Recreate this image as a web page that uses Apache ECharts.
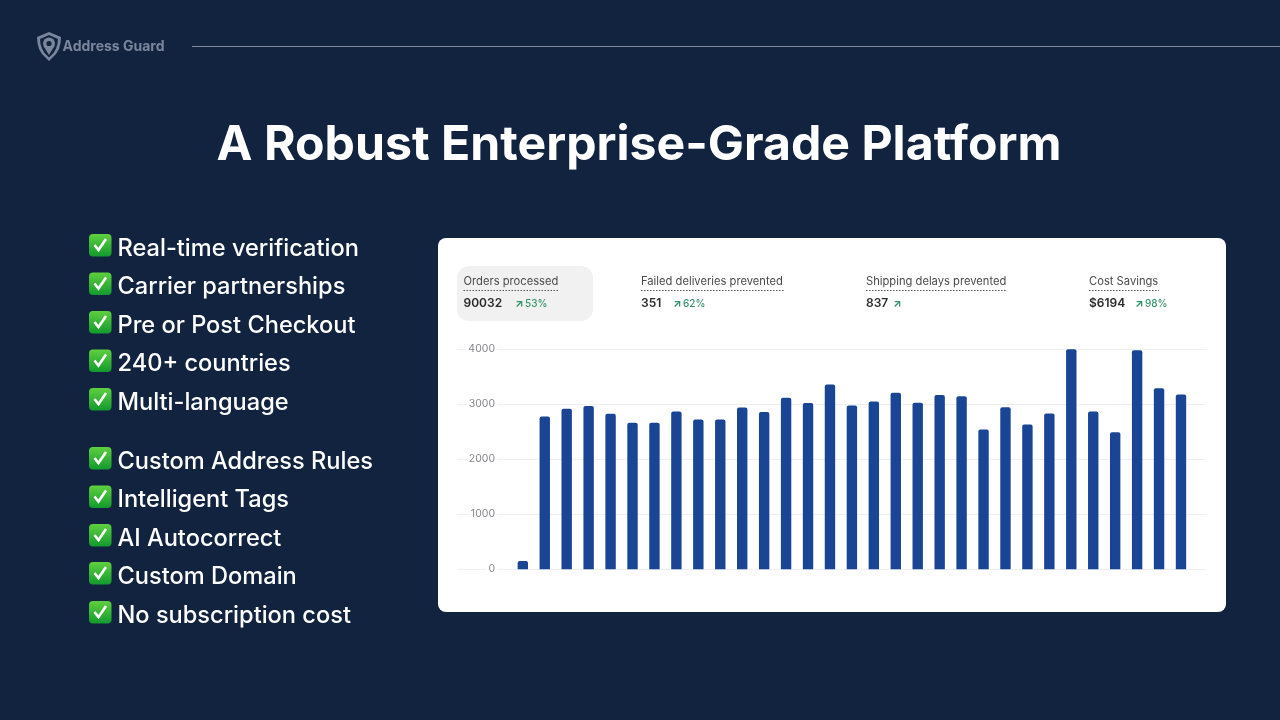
<!DOCTYPE html>
<html>
<head>
<meta charset="utf-8">
<title>A Robust Enterprise-Grade Platform</title>
<script src="https://cdn.jsdelivr.net/npm/echarts@6/dist/echarts.min.js"></script>
<style>
html,body{margin:0;padding:0;background:#12233f;}
#main{width:1280px;height:720px;}
</style>
</head>
<body>
<div id="main"></div>
<script>
var days = [1,2,3,4,5,6,7,8,9,10,11,12,13,14,15,16,17,18,19,20,21,22,23,24,25,26,27,28,29,30,31];
var orders = [150,2780,2920,2970,2830,2665,2665,2870,2725,2725,2940,2860,3120,3025,3360,2980,3050,3210,3030,3170,3145,2540,2945,2635,2835,4000,2870,2490,3985,3290,3180];
var yTicks = [0,1000,2000,3000,4000];

var pageTitle = 'A Robust Enterprise-Grade Platform';
var brandName = 'Address Guard';
var features = ['Real-time verification','Carrier partnerships','Pre or Post Checkout','240+ countries','Multi-language','Custom Address Rules','Intelligent Tags','AI Autocorrect','Custom Domain','No subscription cost'];
var featureRows = [247,285.5,324,362.5,401,460,498.5,537,575,614];

var metricNames = ['Orders processed','Failed deliveries prevented','Shipping delays prevented','Cost Savings'];
var metricValues = ['90032','351','837','$6194'];
var metricChanges = ['53%','62%','','98%'];
var metricX = [463.5,641,866,1089];
var metricUnderline = [95.5,143,140.5,70];
var metricArrowX = [515,673,893,1135];

var uiFont = 'Inter, "Noto Sans", sans-serif';
var green = '#34936a';
var logoGrey = '#7a869b';
var pageBg = '#12233f';

function label(text,x,y,font,fill,align){
	return {
		type:'text',
		style:{text:text,x:x,y:y,font:font,fill:fill,textAlign:align||'left',textVerticalAlign:'middle'}
	};
}

function shape(points,fill){
	return {type:'polygon',shape:{points:points},style:{fill:fill}};
}

function buildGraphic(){
	var els = [];
	//card
	els.push({type:'rect',z:-5,shape:{x:438,y:238,width:788,height:374,r:8},style:{fill:'#fff'}});
	els.push({type:'rect',z:-4,shape:{x:457,y:266,width:136,height:55,r:12},style:{fill:'#f1f1f1'}});

	//logo
	els.push(shape([[49,32],[55,34.5],[61,37],[60.5,43],[59,49],[56,54],[49,61],[42,54],[39,49],[37.5,43],[37,37],[43,34.5]],logoGrey));
	els.push(shape([[49,35],[58,39],[57.5,44],[56,48.5],[53.5,53],[49,57.5],[44.5,53],[42,48.5],[40.5,44],[40,39]],pageBg));
	els.push({type:'circle',shape:{cx:49,cy:43.5,r:6},style:{fill:logoGrey}});
	els.push(shape([[43.6,46],[54.4,46],[49,55]],logoGrey));
	els.push({type:'circle',shape:{cx:49,cy:43.5,r:2.6},style:{fill:pageBg}});
	els.push(label(brandName,62.5,46.5,'bold 14px '+uiFont,logoGrey));
	els.push({type:'line',shape:{x1:192,y1:46.5,x2:1280,y2:46.5},style:{stroke:'#7f8a9e',lineWidth:1}});

	els.push(label(pageTitle,639,146,'bold 48.2px '+uiFont,'#ffffff','center'));

	//feature list
	features.forEach(function(name,i){
		var y = featureRows[i];
		els.push({
			type:'rect',
			shape:{x:89,y:y-13,width:22.5,height:22.5,r:4},
			style:{fill:new echarts.graphic.LinearGradient(0,0,0,1,[{offset:0,color:'#5fd03f'},{offset:1,color:'#129a2e'}])}
		});
		els.push({
			type:'polyline',
			shape:{points:[[94.5,y-2],[98.5,y+3],[106,y-8]]},
			style:{stroke:'#fff',lineWidth:2.6,fill:null}
		});
		els.push(label(name,117.5,y+1.5,'500 23.6px '+uiFont,'#ffffff'));
	});

	//metrics above the chart
	metricNames.forEach(function(name,i){
		var x = metricX[i];
		els.push(label(name,x,281.5,'11.2px '+uiFont,'#4a4a4a'));
		els.push({
			type:'line',
			shape:{x1:x,y1:290.5,x2:x+metricUnderline[i],y2:290.5},
			style:{stroke:'#555',lineWidth:1,lineDash:[1.5,1.5]}
		});
		els.push(label(metricValues[i],x,303.5,'600 12px '+uiFont,'#2b2b2b'));
		els.push(label('\u2197',metricArrowX[i],303.5,'bold 11px '+uiFont,green));
		if(metricChanges[i]){
			els.push(label(metricChanges[i],metricArrowX[i]+10,303.5,'500 10px '+uiFont,green));
		}
	});
	return els;
}

var barData = days.map(function(d,i){
	return [d,orders[i]];
});

var myChart = echarts.init(document.getElementById('main'),null,{renderer:'canvas'});
var option = {
	backgroundColor:pageBg,
	animation:false,
	graphic:{elements:buildGraphic()},
	grid:{left:457,right:74,top:349.3,height:220},
	xAxis:{
		type:'value',
		min:-2,
		max:32.14,
		show:false
	},
	yAxis:{
		type:'value',
		min:0,
		max:4000,
		interval:1000,
		axisLine:{show:false},
		axisTick:{show:false},
		axisLabel:{
			margin:-40,
			color:'#85858c',
			fontFamily:'Inter',
			fontSize:10.5,
			backgroundColor:'#fff',
			padding:[0,2],
			customValues:yTicks,
			formatter:function(v){return String(v);}
		},
		splitLine:{lineStyle:{color:'#efeff1',width:1}}
	},
	series:[
		{
			name:'Orders processed',
			type:'bar',
			data:barData,
			barWidth:10.4,
			itemStyle:{color:'#1a4594',borderRadius:[2,2,0,0]}
		}
	]
};
myChart.setOption(option);
</script>
</body>
</html>
